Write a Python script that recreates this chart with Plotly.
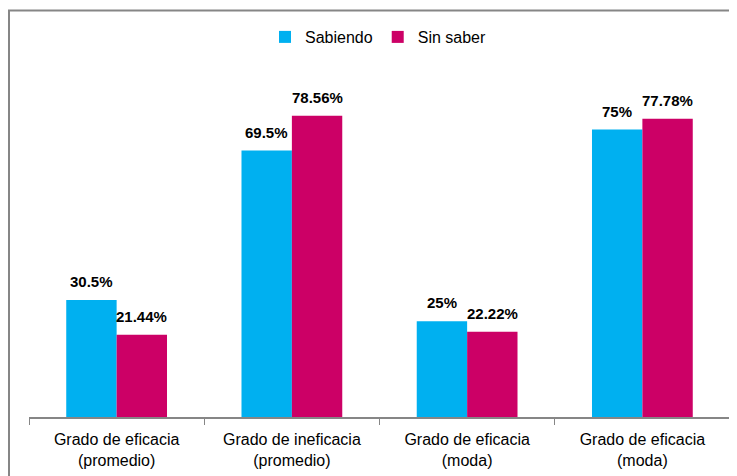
import plotly.graph_objects as go

categories = ["Grado de eficacia<br>(promedio)", "Grado de ineficacia<br>(promedio)",
              "Grado de eficacia<br>(moda)", "Grado de eficacia<br>(moda)"]
cat_ids = ["c1", "c2", "c3", "c4"]
sabiendo = [30.5, 69.5, 25, 75]
sabiendo_labels = ["30.5%", "69.5%", "25%", "75%"]
sin_saber = [21.44, 78.56, 22.22, 77.78]
sin_saber_labels = ["21.44%", "78.56%", "22.22%", "77.78%"]

FONT = "Liberation Sans, Arial, sans-serif"

# page body has an 8px margin; figure coordinates = page coordinates - 8
W, H = 729, 468
ml, mr, mt, mb = 21, 7, 64, 59
BARGAP = 0.425
pw = W - ml - mr
ph = H - mt - mb
bar_px = pw / len(cat_ids) * (1 - BARGAP) / 2

fig = go.Figure()
fig.add_trace(go.Bar(name="Sabiendo", x=cat_ids, y=sabiendo, marker_color="#00B0F0",
                     marker_line_width=0))
fig.add_trace(go.Bar(name="Sin saber", x=cat_ids, y=sin_saber, marker_color="#CC0066",
                     marker_line_width=0))

label_font = dict(family=FONT, size=15, color="#000000", weight="bold")
for vals, labels, sgn in ((sabiendo, sabiendo_labels, -1), (sin_saber, sin_saber_labels, 1)):
    for c, v, t in zip(cat_ids, vals, labels):
        fig.add_annotation(x=c, y=v, text=t, showarrow=False, xanchor="center",
                           yanchor="bottom", xshift=sgn * bar_px / 2, yshift=8,
                           font=label_font)

fig.update_layout(
    width=W, height=H,
    margin=dict(l=ml, r=mr, t=mt, b=mb),
    paper_bgcolor="white", plot_bgcolor="white",
    barmode="group", bargap=BARGAP, bargroupgap=0,
    font=dict(family=FONT, size=16, color="#000000"),
    legend=dict(orientation="h", x=(380 - 8 - 2 - ml) / pw, xanchor="center",
                y=1 + (mt - (37 - 8)) / ph, yanchor="middle",
                font=dict(family=FONT, size=16, color="#000000"),
                itemwidth=30, traceorder="normal"),
    showlegend=True,
)
fig.update_xaxes(type="category", tickmode="array", tickvals=cat_ids, ticktext=categories,
                 showline=True, linecolor="#868686", linewidth=1.5,
                 ticks="outside", tickson="boundaries", ticklen=6, tickcolor="#868686",
                 ticklabelstandoff=7,
                 tickfont=dict(family=FONT, size=16, color="#000000"),
                 showgrid=False, zeroline=False)
fig.update_yaxes(range=[0, 90], visible=False, showgrid=False, zeroline=False)

# outer chart border (top and left edges visible, rest cropped)
fig.add_shape(type="rect", xref="paper", yref="paper",
              x0=(1 - ml) / pw, x1=(W + 20 - ml) / pw,
              y0=-(H + 20 - (H - mb)) / ph, y1=1 + (mt - 2.5) / ph,
              line=dict(color="#868686", width=2), fillcolor="rgba(0,0,0,0)", layer="below")

fig.write_html("out.html")
